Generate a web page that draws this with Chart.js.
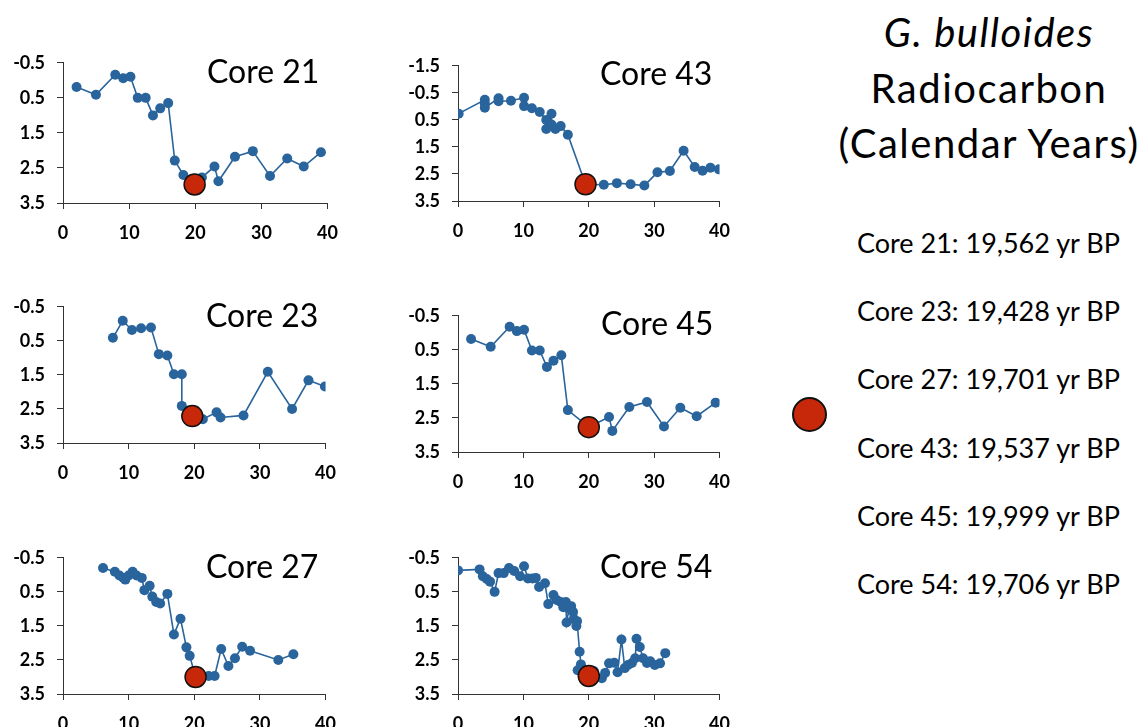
<!DOCTYPE html>
<html>
<head>
<meta charset="utf-8">
<script src="https://cdn.jsdelivr.net/npm/chart.js@4.4.0/dist/chart.umd.min.js"></script>
<style>
  body { margin: 0; background: #fff; width: 1148px; height: 727px; overflow: hidden; position: relative; font-family: Lato, "Open Sans", sans-serif; color: #000; }
  .panel { position: absolute; }
  .txt { position: absolute; white-space: nowrap; line-height: 1.2; }
  .core-title { font-size: 32px; }
  .heading { font-size: 40px; width: 400px; text-align: center; letter-spacing: 1.5px; }
  .age { font-size: 27px; }
  .marker-key { position: absolute; width: 31px; height: 31px; border-radius: 50%; background: #c8280a; border: 2px solid #111; }
</style>
</head>
<body>
<script>
// core names, one per panel (read left-right, top-bottom)
const coreNames = ['Core 21', 'Core 43', 'Core 23', 'Core 45', 'Core 27', 'Core 54'];

// [x, y] points per core
const core21 = [[2.05,0.19],[4.98,0.41],[7.9,-0.16],[9.1,-0.06],[10.2,-0.1],[11.3,0.5],[12.5,0.5],[13.6,1.0],[14.7,0.8],[15.9,0.65],[16.9,2.29],[18.2,2.7],[19.9,2.97],[21.0,2.77],[22.9,2.46],[23.5,2.88],[26.0,2.18],[28.7,2.02],[31.3,2.73],[33.9,2.23],[36.4,2.46],[39.0,2.05]];
const core43 = [[0.1,0.27],[4.1,-0.24],[4.1,-0.1],[4.1,0.05],[6.2,-0.3],[6.2,-0.19],[8.1,-0.21],[10.1,-0.32],[10.1,-0.01],[11.3,0.07],[12.5,0.21],[13.5,0.5],[13.5,0.84],[14.3,0.27],[14.3,0.67],[14.9,0.84],[15.7,0.73],[16.8,1.05],[19.5,2.88],[22.3,2.9],[24.3,2.84],[26.4,2.88],[28.5,2.93],[30.5,2.44],[32.4,2.39],[34.5,1.64],[36.2,2.24],[37.4,2.38],[38.6,2.27],[39.9,2.33]];
const core23 = [[7.6,0.41],[9.1,-0.09],[10.5,0.18],[11.9,0.13],[13.4,0.11],[14.6,0.89],[15.9,0.93],[16.9,1.48],[18.1,1.48],[18.1,2.41],[19.7,2.71],[21.3,2.8],[23.4,2.6],[24.0,2.75],[27.5,2.69],[31.2,1.41],[34.9,2.5],[37.4,1.66],[39.9,1.84]];
const core45 = [[2.0,0.18],[5.0,0.41],[7.9,-0.18],[9.0,-0.05],[10.1,-0.09],[11.3,0.52],[12.5,0.52],[13.6,1.0],[14.6,0.82],[15.8,0.66],[16.8,2.27],[20.0,2.77],[23.1,2.47],[23.6,2.88],[26.2,2.18],[28.9,2.03],[31.5,2.75],[34.0,2.2],[36.5,2.45],[39.4,2.05]];
const core27 = [[6.1,-0.2],[7.9,-0.09],[8.6,0.02],[9.2,0.09],[9.5,0.14],[10.0,0.02],[10.6,-0.09],[11.2,0.02],[12.0,0.09],[12.4,0.45],[13.2,0.32],[13.6,0.64],[14.2,0.8],[14.8,0.84],[15.9,0.56],[16.9,1.75],[17.9,1.29],[18.8,2.13],[19.3,2.38],[20.2,3.0],[22.2,2.97],[23.1,2.97],[24.1,2.18],[25.2,2.68],[26.2,2.45],[27.3,2.11],[28.5,2.23],[32.8,2.5],[35.1,2.33]];
const core54 = [[0,-0.13],[3.3,-0.16],[3.8,0.04],[4.4,0.12],[4.9,0.2],[5.6,0.5],[6.2,-0.05],[7.0,-0.05],[7.8,-0.2],[8.6,-0.11],[9.5,0.04],[10.1,-0.25],[10.7,0.11],[11.4,0.11],[11.9,0.09],[12.4,0.36],[13.3,0.25],[13.8,0.86],[14.6,0.59],[15.1,0.74],[15.7,0.8],[16.1,0.95],[16.5,0.8],[16.6,1.4],[17.0,1.0],[17.3,0.92],[17.6,1.09],[17.7,1.3],[18.1,1.5],[18.2,1.36],[18.6,2.26],[18.8,2.63],[18.3,2.8],[20.0,2.97],[20.8,2.83],[22.0,3.04],[22.5,2.88],[23.1,2.6],[23.9,2.58],[24.4,2.86],[25.0,1.9],[25.5,2.74],[26.0,2.65],[26.6,2.59],[27.1,2.45],[27.3,1.88],[27.8,2.12],[28.3,2.45],[28.9,2.59],[29.4,2.54],[30.1,2.65],[30.9,2.6],[31.7,2.3]];
const coreSeries = [core21, core43, core23, core45, core27, core54];

// the red 14C-dated sample in each core
const markerX = [19.9, 19.5, 19.7, 20.0, 20.2, 20.0];
const markerY = [2.97, 2.88, 2.71, 2.77, 3.0, 2.97];

// axis ranges
const yMins = [-0.5, -1.5, -0.5, -0.5, -0.5, -0.5];
const yMax = 3.5;
const xMin = 0, xMax = 40, xStep = 10;

// right hand text
const headingLines = ['G. bulloides', 'Radiocarbon', '(Calendar Years)'];
const ageLabels = ['Core 21: 19,562 yr BP', 'Core 23: 19,428 yr BP', 'Core 27: 19,701 yr BP',
                   'Core 43: 19,537 yr BP', 'Core 45: 19,999 yr BP', 'Core 54: 19,706 yr BP'];

const BLUE = '#29649c';
const RED = '#c8280a';

// plot area boxes on the page (left, top, width, height) and title baselines
const plotBoxes = [
  [63, 52, 274, 151], [458, 55, 271, 146],
  [63, 296, 272, 147], [458, 305, 271, 147],
  [63, 547, 272, 147], [458, 547, 271, 147]
];
const titlePos = [[207, 84], [600, 86], [206, 328], [601, 336], [206, 579], [600, 579]];

const Y_W = 56, PAD_TOP = 12, PAD_RIGHT = 14, X_H = 40;
const tickFont = { family: 'Lato', size: 18, weight: 'bold' };

function addText(cls, text, left, baseline, size) {
  let d = document.createElement('div');
  d.className = 'txt ' + cls;
  d.textContent = text;
  d.style.left = left + 'px';
  d.style.top = (baseline - size * 1.0) + 'px';
  document.body.appendChild(d);
  return d;
}

function makePanel(i) {
  let box = plotBoxes[i];
  let wrap = document.createElement('div');
  wrap.className = 'panel';
  let w = box[2] + Y_W + PAD_RIGHT;
  let h = box[3] + PAD_TOP + X_H;
  wrap.style.left = (box[0] - Y_W) + 'px';
  wrap.style.top = (box[1] - PAD_TOP) + 'px';
  let canvas = document.createElement('canvas');
  canvas.width = w;
  canvas.height = h;
  wrap.appendChild(canvas);
  document.body.appendChild(wrap);

  new Chart(canvas, {
    type: 'scatter',
    data: {
      datasets: [
        {
          data: [{ x: markerX[i], y: markerY[i] }],
          backgroundColor: RED,
          borderColor: '#111',
          borderWidth: 1.5,
          pointRadius: 10.5,
          order: 0
        },
        {
          data: coreSeries[i].map(p => ({ x: p[0], y: p[1] })),
          showLine: true,
          borderColor: BLUE,
          backgroundColor: BLUE,
          borderWidth: 1.6,
          pointRadius: 5,
          pointBorderWidth: 0,
          order: 1
        }
      ]
    },
    options: {
      responsive: false,
      animation: false,
      layout: { padding: { top: PAD_TOP, right: PAD_RIGHT, left: 0, bottom: 0 } },
      plugins: { legend: { display: false }, tooltip: { enabled: false } },
      scales: {
        x: {
          type: 'linear',
          min: xMin, max: xMax,
          afterFit: (s) => { s.height = X_H; },
          border: { display: true, color: '#333', width: 1 },
          grid: { display: true, drawOnChartArea: false, tickLength: 6, color: '#333' },
          ticks: { stepSize: xStep, color: '#000', font: tickFont, padding: 13, maxRotation: 0 }
        },
        y: {
          type: 'linear',
          reverse: true,
          min: yMins[i], max: yMax,
          afterFit: (s) => { s.width = Y_W; },
          border: { display: true, color: '#333', width: 1 },
          grid: { display: true, drawOnChartArea: false, tickLength: 6, color: '#333' },
          ticks: { stepSize: 1, color: '#000', font: tickFont, padding: 12,
                   callback: (v) => Number(v).toFixed(1) }
        }
      }
    }
  });

  addText('core-title', coreNames[i], titlePos[i][0], titlePos[i][1], 32);
}

for (let i = 0; i < coreNames.length; i++) makePanel(i);

// heading on the right, centred at x = 989
let hBase = [48, 104, 159];
headingLines.forEach((t, k) => {
  let d = addText('heading', t, 789, hBase[k], 40);
  if (k === 0) d.style.fontStyle = 'italic';
});

// radiocarbon ages
ageLabels.forEach((t, k) => {
  addText('age', t, 857, 254 + k * 68.2, 27);
});

// key dot
let key = document.createElement('div');
key.className = 'marker-key';
key.style.left = (809 - 17) + 'px';
key.style.top = (414 - 17) + 'px';
document.body.appendChild(key);
</script>
</body>
</html>
